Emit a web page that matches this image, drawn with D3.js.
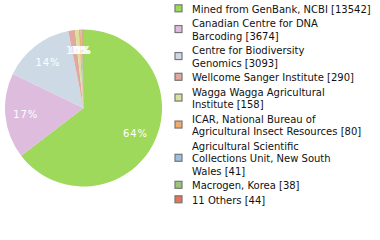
<!doctype html>
<html>
<head>
<script src="https://cdnjs.cloudflare.com/ajax/libs/d3/7.8.5/d3.min.js"></script>
<style>
  body { margin: 0; background: #fff; }
  svg { display: block; }
  text { font-family: "DejaVu Sans", sans-serif; }
  .pct { fill: #fff; font-size: 10px; letter-spacing: 0.9px; }
  .leg { fill: #111; font-size: 10px; }
</style>
</head>
<body>
<svg width="380" height="240"></svg>
<script>
var sources = ["Mined from GenBank, NCBI", "Canadian Centre for DNA Barcoding",
  "Centre for Biodiversity Genomics", "Wellcome Sanger Institute",
  "Wagga Wagga Agricultural Institute", "ICAR, National Bureau of Agricultural Insect Resources",
  "Agricultural Scientific Collections Unit, New South Wales", "Macrogen, Korea", "11 Others"];
var counts = [13542, 3674, 3093, 290, 158, 80, 41, 38, 44];
var colours = ["#9ed95b", "#ddbcde", "#cddae5", "#e0a89f", "#dbe09d", "#f1ab6e",
  "#9dbde2", "#9cc47a", "#e07558"];

var svg = d3.select("svg");
var total = d3.sum(counts);
var cx = 83.5, cy = 108, r = 78.5;

var pie = d3.pie().sort(null).value(d => d)(counts);
var arc = d3.arc().innerRadius(0).outerRadius(r);
var labelArc = d3.arc().innerRadius(58).outerRadius(58);

var g = svg.append("g").attr("transform", `translate(${cx},${cy})`);
g.selectAll("path").data(pie).enter().append("path")
  .attr("d", arc)
  .attr("fill", (d, i) => colours[i]);

g.selectAll("text").data(pie).enter().append("text")
  .attr("class", "pct")
  .attr("text-anchor", "middle")
  .attr("x", d => labelArc.centroid(d)[0])
  .attr("y", d => labelArc.centroid(d)[1] + 3.8)
  .text(d => Math.floor(d.value / total * 100) + "%");

// legend: wrap the name at ~30 chars, count goes after the last line
function wrap(name) {
  var lines = [], cur = "";
  name.split(" ").forEach(w => {
    var next = cur ? cur + " " + w : w;
    if (cur && next.length > 30) { lines.push(cur); cur = w; }
    else cur = next;
  });
  lines.push(cur);
  return lines;
}

var leg = svg.append("g");
var lineH = 12.5, gap = 2;
var y = 12.5;
sources.forEach((name, i) => {
  var lines = wrap(name);
  lines[lines.length - 1] += " [" + counts[i] + "]";
  var t = leg.append("text").attr("class", "leg");
  lines.forEach((l, k) => {
    t.append("tspan").attr("x", 192).attr("y", y + k * lineH).text(l);
  });
  var last = y + (lines.length - 1) * lineH;
  var mid = (y + last) / 2 - 4.2;
  leg.append("rect")
    .attr("x", 175).attr("y", mid - 3.5)
    .attr("width", 7).attr("height", 7)
    .attr("fill", colours[i])
    .attr("stroke", "#777").attr("stroke-width", 1.2);
  y = last + lineH + gap;
});
</script>
</body>
</html>
